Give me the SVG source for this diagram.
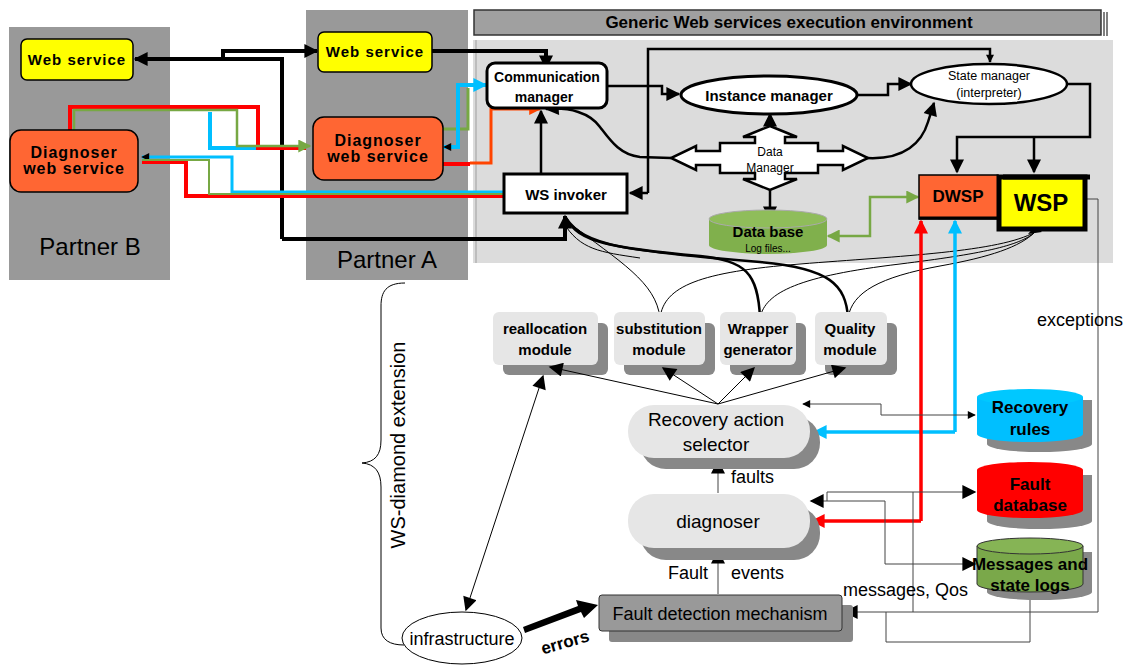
<svg xmlns="http://www.w3.org/2000/svg" width="1136" height="666" viewBox="0 0 1136 666">
  <style>
    text { font-family: "Liberation Sans", Arial, sans-serif; fill: #000; }
    .b { font-weight: bold; }
    .mid { text-anchor: middle; }
    .panel { fill: #999999; }
    .ws { fill: #ffff00; stroke: #000; stroke-width: 1.5; }
    .dg { fill: #ff6633; stroke: #000; stroke-width: 1.5; }
    .wbox { fill: #fff; stroke: #000; stroke-width: 3; }
    .mod { fill: #e6e6e6; }
    .shadow { fill: #888888; }
    .thin { fill: none; stroke: #000; stroke-width: 1; }
    .thick { fill: none; stroke: #000; stroke-width: 4; }
    .med { fill: none; stroke: #000; stroke-width: 2.5; }
    .gline { fill: none; stroke: #444; stroke-width: 1; }
  </style>
  <defs>
    <marker id="ah" viewBox="0 0 10 10" refX="9" refY="5" markerWidth="10" markerHeight="9" markerUnits="userSpaceOnUse" orient="auto-start-reverse">
      <path d="M0,0 L10,5 L0,10 z" fill="#000"/>
    </marker>
    <marker id="ahL" viewBox="0 0 10 10" refX="9" refY="5" markerWidth="16" markerHeight="14" markerUnits="userSpaceOnUse" orient="auto-start-reverse">
      <path d="M0,0 L10,5 L0,10 z" fill="#000"/>
    </marker>
    <marker id="ahBlue" viewBox="0 0 10 10" refX="9" refY="5" markerWidth="18" markerHeight="14" markerUnits="userSpaceOnUse" orient="auto-start-reverse">
      <path d="M0,0 L10,5 L0,10 z" fill="#00bfff"/>
    </marker>
    <marker id="ahRed" viewBox="0 0 10 10" refX="9" refY="5" markerWidth="18" markerHeight="14" markerUnits="userSpaceOnUse" orient="auto-start-reverse">
      <path d="M0,0 L10,5 L0,10 z" fill="#ff0000"/>
    </marker>
    <marker id="ahOr" viewBox="0 0 10 10" refX="9" refY="5" markerWidth="14" markerHeight="12" markerUnits="userSpaceOnUse" orient="auto-start-reverse">
      <path d="M0,0 L10,5 L0,10 z" fill="#ff4400"/>
    </marker>
    <marker id="ahGreen" viewBox="0 0 10 10" refX="9" refY="5" markerWidth="16" markerHeight="13" markerUnits="userSpaceOnUse" orient="auto-start-reverse">
      <path d="M0,0 L10,5 L0,10 z" fill="#77a844"/>
    </marker>
    <marker id="ahSm" viewBox="0 0 10 10" refX="9" refY="5" markerWidth="9" markerHeight="8" markerUnits="userSpaceOnUse" orient="auto-start-reverse">
      <path d="M0,0 L10,5 L0,10 z" fill="#000"/>
    </marker>
  </defs>

  <!-- partner panels -->
  <g id="partnerB">
    <rect class="panel" x="9" y="27" width="161" height="253"/>
    <text x="90" y="255" class="mid" font-size="24" fill="#222">Partner B</text>
  </g>
  <g id="partnerA">
    <rect class="panel" x="306" y="10" width="162" height="270"/>
    <text x="387" y="268" class="mid" font-size="24" fill="#222">Partner A</text>
  </g>

  <!-- execution environment background -->
  <g id="environment">
    <rect x="473" y="40" width="640" height="223" fill="#dcdcdc"/>
    <line x1="476" y1="40" x2="476" y2="263" stroke="#bdbdbd" stroke-width="2"/>
    <rect x="474" y="10" width="627" height="25" fill="#a0a0a0" stroke="#333" stroke-width="1.5"/>
    <line x1="1104" y1="12" x2="1104" y2="36" stroke="#555" stroke-width="1.5"/>
    <line x1="1107" y1="12" x2="1107" y2="36" stroke="#555" stroke-width="1.5"/>
    <text x="789" y="28" class="mid b" font-size="17" fill="#111">Generic Web services execution environment</text>
  </g>

  <!-- connectors -->
  <g id="connectors">
    <!-- partner web service links -->
    <path class="thick" d="M282,239 L282,59 L135,59" stroke-width="3.5" marker-end="url(#ahL)"/>
    <path class="thick" d="M223,59 L223,51 L317,51" stroke-width="4" marker-end="url(#ahL)"/>
    <path class="thick" d="M432,51 L546,51 L546,68" marker-end="url(#ahL)"/>
    <path class="thick" d="M282,239 L565,239 L565,216" marker-end="url(#ahL)"/>

    <!-- diagnoser B to diagnoser A -->
    <path d="M70,130 L70,107 L258,107 L258,148 L306,148" fill="none" stroke="#ff0000" stroke-width="4"/>
    <path d="M210,112 L210,148 L256,148" fill="none" stroke="#00bfff" stroke-width="4"/>
    <path d="M74,130 L74,110 L237,110 L237,146 L310,146" fill="none" stroke="#77a844" stroke-width="2.5" marker-end="url(#ahGreen)"/>

    <!-- diagnoser B to WS invoker -->
    <path d="M504,196 L186,196 L186,162 L142,162" fill="none" stroke="#ff0000" stroke-width="4"/>
    <path d="M504,192 L232,192 L232,157 L142,157" fill="none" stroke="#00bfff" stroke-width="3" marker-end="url(#ahSm)"/>
    <path d="M504,194 L209,194 L209,160 L142,160" fill="none" stroke="#77a844" stroke-width="2"/>

    <!-- diagnoser A to communication manager -->
    <path d="M443,129 L468,129 L468,88" fill="none" stroke="#77a844" stroke-width="3"/>
    <path d="M486,85 L458,85 L458,147 L444,147" fill="none" stroke="#00bfff" stroke-width="4" marker-start="url(#ahBlue)" marker-end="url(#ahSm)"/>
    <path d="M443,164 L470,164" fill="none" stroke="#ff0000" stroke-width="4"/>
    <path d="M470,163 L491,163 L491,109 L540,109" fill="none" stroke="#ff4400" stroke-width="3" marker-end="url(#ahOr)"/>

    <!-- inside the environment -->
    <path class="med" d="M541,173 L541,111" marker-end="url(#ahL)"/>
    <path class="med" d="M607,86 L662,86 L662,94 L679,94" marker-end="url(#ahL)"/>
    <path class="med" d="M857,95 L888,95 L888,84 L911,84" marker-end="url(#ahL)"/>
    <path class="med" d="M648,193 L648,49 L990,49 L990,62" stroke-width="3" marker-end="url(#ahSm)"/>
    <path class="med" d="M648,193 L630,193" stroke-width="3" marker-end="url(#ahL)"/>
    <path class="med" d="M1066,84 L1090,84 L1090,137 L957,137 L957,172" stroke-width="3" marker-end="url(#ahL)"/>
    <path class="med" d="M1034,137 L1034,172" stroke-width="3" marker-end="url(#ahL)"/>
    <path class="med" d="M671,158 L640,157 C620,155 610,140 600,127 C590,113 570,107 546,109" stroke-width="3" marker-end="url(#ahL)"/>
    <path class="med" d="M867,158 C905,160 922,142 928,122 L934,103" stroke-width="3" marker-end="url(#ahL)"/>
    <path class="med" d="M770,126 L770,114" marker-end="url(#ahL)"/>
    <path class="med" d="M770,190 L770,219" marker-end="url(#ahL)"/>
    <path d="M828,236 L870,236 L870,197 L918,197" fill="none" stroke="#77a844" stroke-width="2.5" marker-start="url(#ahGreen)" marker-end="url(#ahGreen)"/>

    <!-- module links up to WS invoker and WSP -->
    <path class="med" d="M566,218 C578,242 610,248 700,256 C745,261 758,272 760,318"/>
    <path class="med" d="M566,218 C584,246 625,251 760,262 C830,268 846,285 848,318"/>
    <path class="thin" d="M660,318 C656,282 620,262 568,222"/>
    <path class="thin" d="M563,222 C580,250 600,252 640,258"/>
    <path class="thin" d="M660,318 C664,286 700,272 800,264 C900,256 1000,252 1035,232"/>
    <path class="thin" d="M760,318 C765,292 800,276 900,264 C980,254 1020,246 1035,232"/>
    <path class="thin" d="M848,318 C852,292 880,277 940,266 C990,257 1020,247 1035,232"/>
    <path d="M1028,234 L1035,226 L1042,232 Z" fill="#000"/>

    <!-- diagnosis chain -->
    <path class="gline" d="M718,493 L718,461" stroke="#777" marker-end="url(#ahL)"/>
    <path class="gline" d="M718,594 L718,551" stroke="#777" marker-end="url(#ahL)"/>
    <polygon points="523,627 578,606 576,600 598,605 584,618 581,612 525,633" fill="#000"/>

    <!-- DWSP feeds -->
    <path d="M955,432 L955,221" fill="none" stroke="#00bfff" stroke-width="3.5" marker-end="url(#ahBlue)"/>
    <path d="M955,432 L814,432" fill="none" stroke="#00bfff" stroke-width="3.5" marker-end="url(#ahBlue)"/>
    <path d="M921,521 L921,221" fill="none" stroke="#ff0000" stroke-width="3.5" marker-end="url(#ahRed)"/>
    <path d="M921,521 L812,521" fill="none" stroke="#ff0000" stroke-width="3.5" marker-end="url(#ahRed)"/>

    <!-- repositories -->
    <path class="gline" d="M803,404 L881,404 L881,415 L975,415" marker-start="url(#ahSm)" marker-end="url(#ahSm)"/>
    <path class="gline" d="M827,501 L827,492 L975,492" marker-end="url(#ahL)"/>
    <path class="gline" d="M913,492 L913,612"/>
    <path class="gline" d="M811,501 L885,501 L885,564 L975,564" marker-start="url(#ahL)" marker-end="url(#ahL)"/>
    <path class="gline" d="M1084,199 L1098,199 L1098,612 L845,612" marker-end="url(#ahL)"/>
    <path class="gline" d="M1030,592 L1030,642 L886,642 L886,612"/>

    <!-- extension brace -->
    <path class="thin" d="M405,283 C386,283 381,292 381,306 L381,440 C381,455 375,462 362,463 C375,464 381,472 381,487 L381,628 C381,640 390,645 404,645" stroke="#333"/>
  </g>

  <!-- partner nodes -->
  <g id="webServiceB">
    <rect class="ws" x="21" y="39" width="112" height="41" rx="6"/>
    <text x="77" y="65" class="mid b" font-size="15" letter-spacing="1">Web service</text>
  </g>
  <g id="webServiceA">
    <rect class="ws" x="318" y="32" width="114" height="40" rx="6"/>
    <text x="375" y="57" class="mid b" font-size="15" letter-spacing="1">Web service</text>
  </g>
  <g id="diagnoserWsB">
    <rect class="dg" x="10" y="130" width="128" height="62" rx="11"/>
    <text x="74" y="158" class="mid b" font-size="16" letter-spacing="1">Diagnoser</text>
    <text x="74" y="174" class="mid b" font-size="16" letter-spacing="1">web service</text>
  </g>
  <g id="diagnoserWsA">
    <rect class="dg" x="313" y="117" width="130" height="63" rx="11"/>
    <text x="378" y="146" class="mid b" font-size="16" letter-spacing="1">Diagnoser</text>
    <text x="378" y="162" class="mid b" font-size="16" letter-spacing="1">web service</text>
  </g>

  <!-- environment nodes -->
  <g id="communicationManager">
    <rect class="wbox" x="487" y="63" width="120" height="45" rx="8"/>
    <text x="547" y="82" class="mid b" font-size="14">Communication</text>
    <text x="544" y="102" class="mid b" font-size="14">manager</text>
  </g>
  <g id="instanceManager">
    <ellipse cx="769" cy="95" rx="88" ry="19" fill="#fff" stroke="#000" stroke-width="3"/>
    <text x="769" y="101" class="mid b" font-size="15">Instance manager</text>
  </g>
  <g id="stateManager">
    <ellipse cx="989" cy="84" rx="78" ry="20" fill="#fff" stroke="#000" stroke-width="2.5"/>
    <text x="989" y="80" class="mid" font-size="12.5">State manager</text>
    <text x="989" y="97" class="mid" font-size="12.5">(interpreter)</text>
  </g>
  <g id="dataManager">
    <polygon points="770,126 797,137 785,137 785,143 818,143 818,151 843,151 843,146 868,158 843,170 843,165 818,165 818,173 785,173 785,179 797,179 770,190 743,179 755,179 755,173 720,173 720,165 696,165 696,170 671,158 696,146 696,151 720,151 720,143 755,143 755,137 743,137" fill="#fff" stroke="#000" stroke-width="2.5"/>
    <text x="770" y="156" class="mid" font-size="12">Data</text>
    <text x="770" y="172" class="mid" font-size="12">Manager</text>
  </g>
  <g id="wsInvoker">
    <rect class="wbox" x="504" y="174" width="123" height="39"/>
    <text x="566" y="200" class="mid b" font-size="15">WS invoker</text>
  </g>
  <g id="dataBase">
    <path d="M709,220 L709,245 A59,9 0 0 0 827,245 L827,220 Z" fill="#80b04c"/>
    <ellipse cx="768" cy="219" rx="59" ry="9" fill="#8fbd5a" stroke="#aaa" stroke-width="1"/>
    <text x="768" y="237" class="mid b" font-size="15">Data base</text>
    <text x="768" y="252" class="mid" font-size="10" fill="#222">Log files...</text>
  </g>
  <g id="dwsp">
    <rect x="919" y="175" width="79" height="44" fill="#ff6633" stroke="#000" stroke-width="1.5"/>
    <line x1="919" y1="218" x2="998" y2="218" stroke="#000" stroke-width="3"/>
    <text x="958" y="202" class="mid b" font-size="17">DWSP</text>
  </g>
  <g id="wsp">
    <rect x="999" y="177" width="86" height="52" fill="#ffff00" stroke="#000" stroke-width="5"/>
    <line x1="1003" y1="177" x2="1090" y2="177" stroke="#000" stroke-width="5"/>
    <text x="1041" y="211" class="mid b" font-size="24">WSP</text>
  </g>

  <!-- recovery modules -->
  <g id="reallocationModule">
    <rect class="shadow" x="503" y="323" width="105" height="52" rx="6"/>
    <rect class="mod" x="493" y="312" width="105" height="53" rx="6"/>
    <text x="545" y="334" class="mid b" font-size="15">reallocation</text>
    <text x="545" y="355" class="mid b" font-size="15">module</text>
  </g>
  <g id="substitutionModule">
    <rect class="shadow" x="624" y="323" width="91" height="52" rx="6"/>
    <rect class="mod" x="614" y="312" width="91" height="53" rx="6"/>
    <text x="659" y="334" class="mid b" font-size="15">substitution</text>
    <text x="659" y="355" class="mid b" font-size="15">module</text>
  </g>
  <g id="wrapperGenerator">
    <rect class="shadow" x="730" y="323" width="76" height="52" rx="6"/>
    <rect class="mod" x="720" y="312" width="76" height="53" rx="6"/>
    <text x="758" y="334" class="mid b" font-size="15">Wrapper</text>
    <text x="758" y="355" class="mid b" font-size="15">generator</text>
  </g>
  <g id="qualityModule">
    <rect class="shadow" x="825" y="323" width="72" height="52" rx="6"/>
    <rect class="mod" x="815" y="312" width="72" height="53" rx="6"/>
    <text x="850" y="334" class="mid b" font-size="15">Quality</text>
    <text x="850" y="355" class="mid b" font-size="15">module</text>
  </g>

  <!-- selector to module links, drawn over the module shadows -->
  <g id="moduleConnectors">
    <path class="thin" d="M718,404 L550,367" marker-end="url(#ahL)"/>
    <path class="thin" d="M718,404 L663,368" marker-end="url(#ahL)"/>
    <path class="thin" d="M718,404 L754,368" marker-end="url(#ahL)"/>
    <path class="thin" d="M718,404 L845,368" marker-end="url(#ahL)"/>
    <path class="thin" d="M543,376 L466,610" marker-start="url(#ahL)" marker-end="url(#ahL)"/>
  </g>

  <!-- diagnosis pipeline -->
  <g id="recoverySelector">
    <rect class="shadow" x="640" y="416" width="180" height="53" rx="26"/>
    <rect class="mod" x="628" y="405" width="182" height="53" rx="26"/>
    <text x="716" y="426" class="mid" font-size="19">Recovery action</text>
    <text x="716" y="451" class="mid" font-size="19">selector</text>
  </g>
  <text x="731" y="483" font-size="18">faults</text>
  <g id="diagnoser">
    <rect class="shadow" x="640" y="506" width="180" height="54" rx="26"/>
    <rect class="mod" x="628" y="494" width="182" height="54" rx="26"/>
    <text x="718" y="528" class="mid" font-size="19">diagnoser</text>
  </g>
  <text x="668" y="579" font-size="18">Fault</text>
  <text x="731" y="579" font-size="18">events</text>
  <g id="faultDetection">
    <rect class="shadow" x="609" y="605" width="244" height="37" rx="3"/>
    <rect x="599" y="595" width="243" height="36" rx="3" fill="#999" stroke="#333" stroke-width="1"/>
    <text x="720" y="620" class="mid" font-size="18" fill="#111">Fault detection mechanism</text>
  </g>
  <g id="infrastructure">
    <ellipse cx="462" cy="638" rx="60" ry="26" fill="#fff" stroke="#000" stroke-width="1"/>
    <text x="462" y="645" class="mid" font-size="18">infrastructure</text>
  </g>
  <text x="565" y="648" class="mid b" font-size="17" transform="rotate(-16 565 642)">errors</text>

  <!-- repositories -->
  <g id="recoveryRules">
    <path class="shadow" d="M987,400 L1092,400 L1092,444 A52,8 0 0 1 987,444 Z"/>
    <path d="M977,397 L977,434 A53,8 0 0 0 1083,434 L1083,397 Z" fill="#00bfff"/>
    <ellipse cx="1030" cy="397" rx="53" ry="8" fill="#00c8ff"/>
    <text x="1030" y="413" class="mid b" font-size="17">Recovery</text>
    <text x="1030" y="435" class="mid b" font-size="17">rules</text>
  </g>
  <g id="faultDatabase">
    <path class="shadow" d="M987,475 L1092,475 L1092,521 A52,8 0 0 1 987,521 Z"/>
    <path d="M977,470 L977,510 A53,8 0 0 0 1083,510 L1083,470 Z" fill="#ff0000"/>
    <ellipse cx="1030" cy="470" rx="53" ry="8" fill="#ff0000"/>
    <text x="1030" y="490" class="mid b" font-size="17">Fault</text>
    <text x="1030" y="511" class="mid b" font-size="17">database</text>
  </g>
  <g id="messageLogs">
    <path class="shadow" d="M987,552 L1092,552 L1092,592 A52,8 0 0 1 987,592 Z"/>
    <path d="M977,546 L977,584 A53,8 0 0 0 1083,584 L1083,546 Z" fill="#7aa84a" stroke="#333" stroke-width="1"/>
    <ellipse cx="1030" cy="546" rx="53" ry="8" fill="#86b455" stroke="#333" stroke-width="1"/>
    <text x="1030" y="570" class="mid b" font-size="17">Messages and</text>
    <text x="1030" y="591" class="mid b" font-size="17">state logs</text>
  </g>

  <text x="1037" y="326" font-size="18">exceptions</text>
  <text x="843" y="596" font-size="18">messages, Qos</text>
  <text x="0" y="0" class="mid" font-size="20" fill="#333" transform="translate(405 445) rotate(-90)">WS-diamond extension</text>
</svg>
